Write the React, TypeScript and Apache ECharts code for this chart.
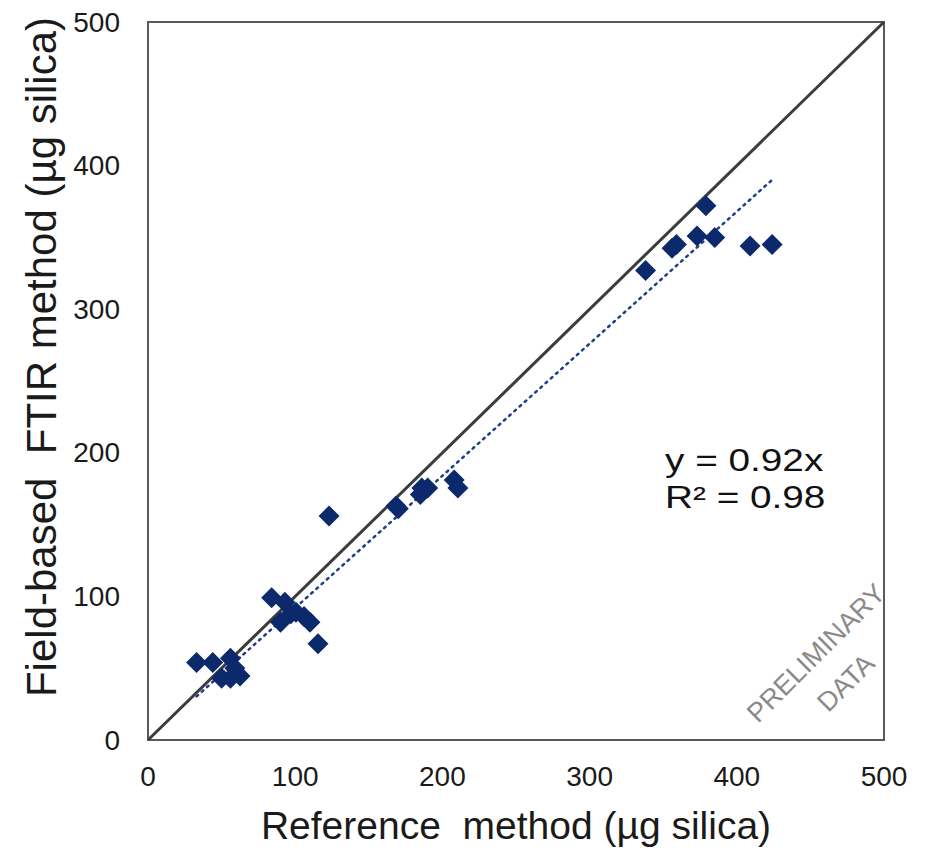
import React, { useEffect, useRef } from "react";
import * as echarts from "echarts";

const referenceX = [33, 44, 50, 56, 56, 59, 62.5, 84, 93, 90, 97, 100.5, 106, 110, 115.5, 123, 168.5, 170, 185, 186, 190, 208, 210.5, 338, 356, 359, 373, 379, 385, 409, 424];
const ftirY = [54, 54, 43, 57, 43, 50, 44.5, 99, 96, 82, 88, 89, 86, 82, 67, 156, 163, 161, 171, 175.5, 175.5, 181, 175.5, 327, 342.5, 345, 351, 372, 350, 344, 345];
const xTicks = [0, 100, 200, 300, 400, 500];
const slope = 0.92;
const r2 = 0.98;

export default function App() {
  const ref = useRef<HTMLDivElement>(null);
  useEffect(() => {
    document.body.style.margin = "0";
    const chart = echarts.init(ref.current!, undefined, { renderer: "svg" });
    const pts = referenceX.map((x, i) => [x, ftirY[i]]);
    const xMin = Math.min(...referenceX);
    const xMax = Math.max(...referenceX);
    const font = "'Liberation Sans', Arial, sans-serif";
    chart.setOption({
      animation: false,
      backgroundColor: "#ffffff",
      grid: { left: 148, top: 22, right: 46, bottom: 112, show: true, borderColor: "#5a5a5a", borderWidth: 2, backgroundColor: "transparent" },
      xAxis: {
        type: "value", min: xTicks[0], max: xTicks[xTicks.length - 1], interval: 100,
        name: "Reference  method (µg silica)", nameLocation: "middle", nameGap: 66,
        nameTextStyle: { fontSize: 39, color: "#1a1a1a", fontFamily: font },
        axisLine: { show: false }, axisTick: { show: false }, splitLine: { show: false },
        axisLabel: { fontSize: 28, color: "#1a1a1a", fontFamily: font, margin: 22 },
      },
      yAxis: {
        type: "value", min: 0, max: 500, interval: 100,
        name: "Field-based  FTIR method (µg silica)", nameLocation: "middle", nameGap: 85,
        nameTextStyle: { fontSize: 42, color: "#1a1a1a", fontFamily: font, padding: [0, 0, 0, 48] },
        axisLine: { show: false }, axisTick: { show: false }, splitLine: { show: false },
        axisLabel: { fontSize: 28, color: "#1a1a1a", fontFamily: font, margin: 28 },
      },
      series: [
        {
          type: "line", data: [[0, 0], [500, 500]], symbol: "none",
          lineStyle: { color: "#3c3c3c", width: 3 }, z: 2,
        },
        {
          type: "line", data: [[xMin, slope * xMin], [xMax, slope * xMax]], symbol: "none",
          lineStyle: { color: "#1f3d8a", width: 2.5, type: [2, 5], cap: "round" }, z: 1,
        },
        {
          type: "scatter", data: pts, symbol: "diamond", symbolSize: [21, 21],
          itemStyle: { color: "#0c2a6b", opacity: 1 }, z: 3,
        },
      ],
      graphic: [
        { type: "text", x: 665, y: 460, scaleX: 1.25, style: { text: `y = ${slope}x`, fontSize: 31, fill: "#111", fontFamily: font, verticalAlign: "middle" } },
        { type: "text", x: 665, y: 497, scaleX: 1.25, style: { text: `R² = ${r2}`, fontSize: 31, fill: "#111", fontFamily: font, verticalAlign: "middle" } },
        {
          type: "group", x: 831, y: 668, rotation: Math.PI / 4,
          children: [
            { type: "text", x: 0, y: -21, style: { text: "PRELIMINARY", fontSize: 27, fill: "#8a8a8a", fontFamily: font, align: "center", verticalAlign: "middle" } },
            { type: "text", x: 0, y: 21, style: { text: "DATA", fontSize: 27, fill: "#8a8a8a", fontFamily: font, align: "center", verticalAlign: "middle" } },
          ],
        },
      ],
    });
    return () => chart.dispose();
  }, []);
  return <div ref={ref} style={{ width: 930, height: 852 }} />;
}
